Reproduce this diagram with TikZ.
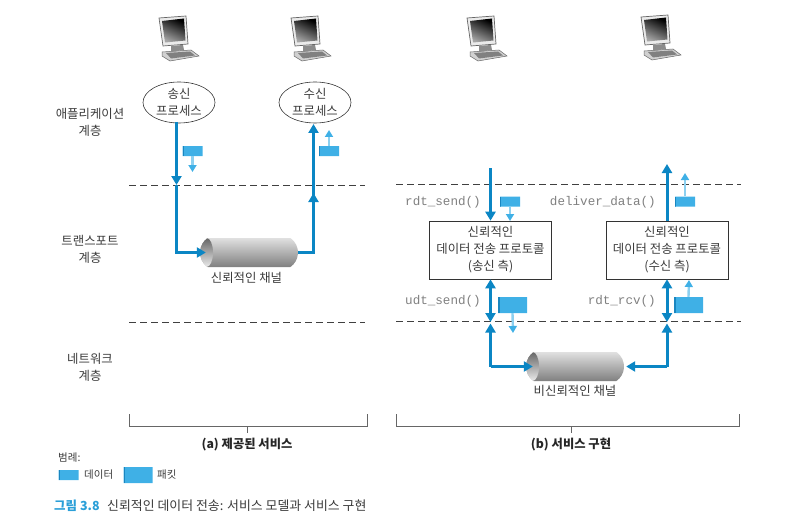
\documentclass[tikz,border=0pt]{standalone}
\usepackage{fontspec}
\setmainfont{Noto Sans CJK KR}
\setmonofont{Liberation Mono}
\usetikzlibrary{arrows.meta, shapes.geometric, shapes.misc}

\definecolor{flowblue}{HTML}{0B86C4}
\definecolor{packetblue}{HTML}{3FB0E6}
\definecolor{packetdark}{HTML}{1A86C0}
\definecolor{inkgray}{HTML}{3A3A3A}
\definecolor{codegray}{HTML}{808080}
\definecolor{captionblue}{HTML}{2A9FD8}

\tikzset{
  computer/.pic={
    \draw [black!60, line width=0.5pt, fill=black!18] (3,35) -- (32,33) -- (40,39) -- (11,44) -- (3,39) -- cycle;
    \fill [black!50] (7,36) -- (31,34.5) -- (36,38.5) -- (12,41.5) -- cycle;
    \fill [black!45] (12,29) -- (24,28) -- (25,33) -- (12,35) -- cycle;
    \draw [black!60, line width=0.7pt, fill=black!8] (0,1) -- (27,-1) -- (29,27) -- (4,29) -- cycle;
    \shade [left color=black, middle color=black!75, right color=black!35, shading angle=-25]
      (3,4) -- (25,1.5) -- (26.5,23.5) -- (6,25.5) -- cycle;
  }
}

\begin{document}
\begin{tikzpicture}[x=1pt, y=-1pt,
                    font=\fontsize{12.4pt}{17pt}\selectfont\color{inkgray},
                    process/.style={ellipse, draw=black!80, line width=0.6pt, inner sep=0pt,
                                    minimum width=72pt, minimum height=41pt, align=center},
                    protocol/.style={rectangle, draw=black!80, line width=0.6pt, inner sep=0pt,
                                     minimum width=122pt, minimum height=58pt, align=center},
                    tier/.style={align=center},
                    code/.style={font=\fontsize{12.6pt}{14pt}\ttfamily\color{codegray}, anchor=east, inner sep=0pt},
                    flow/.style={flowblue, line width=3pt, -{Triangle[length=9pt, width=10pt]}},
                    flowboth/.style={flowblue, line width=3pt,
                                     {Triangle[length=9pt, width=10pt]}-{Triangle[length=9pt, width=10pt]}},
                    flowplain/.style={flowblue, line width=3pt},
                    small/.style={color=packetblue!60, line width=2.4pt,
                                  -{Triangle[length=7pt, width=8pt, fill=packetblue, color=packetblue]}},
                    layerline/.style={draw=black!75, line width=0.6pt, dash pattern=on 7pt off 4pt},
                    brace/.style={draw=black!60, line width=0.7pt},
                    channel/.style={rounded rectangle, rounded rectangle arc length=110, inner sep=0pt,
                                    minimum width=98pt, minimum height=29pt,
                                    top color=black!12, middle color=black!32, bottom color=black!50,
                                    path picture={
                                      \shade [top color=black!60, bottom color=black!8]
                                        ([xshift=7pt]path picture bounding box.west) ellipse (6.5pt and 14.5pt);
                                    }},
                    datapacket/.style={chamfered rectangle, chamfered rectangle corners=north east,
                                       chamfered rectangle xsep=2.5pt, chamfered rectangle ysep=2.5pt,
                                       fill=packetblue, inner sep=0pt, minimum width=20pt, minimum height=10pt,
                                       path picture={
                                         \fill [packetdark] (path picture bounding box.north west)
                                           rectangle ([xshift=1pt]path picture bounding box.south west);
                                       }},
                    segment/.style={datapacket, minimum width=29pt, minimum height=16pt,
                                    chamfered rectangle xsep=3.5pt, chamfered rectangle ysep=3.5pt,
                                    path picture={
                                      \fill [packetdark] (path picture bounding box.north west)
                                        rectangle ([xshift=1.8pt]path picture bounding box.south west);
                                    }}]
  \useasboundingbox (0, 0) rectangle (792, 524);

  % Hosts.
  \pic at (159, 17) {computer};
  \pic at (291, 17) {computer};
  \pic at (467, 17) {computer};
  \pic at (641, 16) {computer};

  % Layer names.
  \node at (90, 122.5) [tier, name=AppLayer] {애플리케이션\\계층};
  \node at (90, 249) [tier, name=TransportLayer] {트랜스포트\\계층};
  \node at (90, 367) [tier, name=NetworkLayer] {네트워크\\계층};

  % Layer boundaries.
  \coordinate (upperA) at (129, 185);
  \coordinate (upperAend) at (365, 185);
  \coordinate (lowerA) at (129, 322);
  \coordinate (lowerAend) at (365, 322);
  \coordinate (upperB) at (396, 184);
  \coordinate (upperBend) at (741, 184);
  \coordinate (lowerB) at (396, 321.5);
  \coordinate (lowerBend) at (741, 321.5);
  \draw [layerline] (upperA) to (upperAend);
  \draw [layerline] (lowerA) to (lowerAend);
  \draw [layerline] (upperB) to (upperBend);
  \draw [layerline] (lowerB) to (lowerBend);

  % Provided service.
  \node at (179, 102.5) [process, name=SendProcess] {송신\\프로세스};
  \node at (315, 102.5) [process, name=RecvProcess] {수신\\프로세스};
  \node at (249, 252.5) [channel, name=ChannelA] {};
  \node at (246.5, 278) [name=ChannelAText] {신뢰적인 채널};

  \coordinate (sendStart) at (176.5, 122);
  \coordinate (sendMid) at (176.5, 185);
  \coordinate (recvMid) at (313.5, 189);
  \coordinate (recvEnd) at (313.5, 124);
  \draw [flow] (sendStart) to (sendMid);
  \draw [flow] (sendMid) |- ([xshift=6pt]ChannelA.west);
  \draw [flowplain] (ChannelA.east) -| (recvMid);
  \draw [flow] (recvMid) to (recvEnd);
  \draw [flow] (recvMid |- ChannelA.east) to (313.5, 193);

  \node at (192.5, 151) [datapacket, name=DataA] {};
  \node at (329, 151) [datapacket, name=DataB] {};
  \coordinate (dataAend) at (192.5, 172);
  \coordinate (dataBend) at (329, 130);
  \draw [small] (DataA.south) to (dataAend);
  \draw [small] (DataB.north) to (dataBend);

  % Service implementation.
  \node at (490.5, 250) [protocol, name=SendBox] {신뢰적인\\데이터 전송 프로토콜\\(송신 측)};
  \node at (667, 250) [protocol, name=RecvBox] {신뢰적인\\데이터 전송 프로토콜\\(수신 측)};
  \node at (575, 366.5) [channel, name=ChannelB] {};
  \node at (575, 391) [name=ChannelBText] {비신뢰적인 채널};

  \coordinate (rdtIn) at (490.5, 168);
  \coordinate (rdtOut) at (667, 164);
  \coordinate (udtGap) at (490.5, 322);
  \coordinate (rcvGap) at (667, 322);
  \coordinate (udtLow) at (490.5, 323.5);
  \coordinate (rcvLow) at (667, 323.5);
  \draw [flow] (rdtIn) to (SendBox.north);
  \draw [flow] (RecvBox.north) to (rdtOut);
  \draw [flowboth] (SendBox.south) to (udtGap);
  \draw [flowboth] (RecvBox.south) to (rcvGap);
  \draw [flow] (udtLow |- ChannelB.west) to ([xshift=7pt]ChannelB.west);
  \draw [flow] (udtLow |- ChannelB.west) to (udtLow);
  \draw [flow] (rcvLow |- ChannelB.east) to ([xshift=2pt]ChannelB.east);
  \draw [flow] (rcvLow |- ChannelB.east) to (rcvLow);

  \node at (481, 202) [code, name=RdtSend] {rdt\_send()};
  \node at (656, 202) [code, name=DeliverData] {deliver\_data()};
  \node at (481, 301) [code, name=UdtSend] {udt\_send()};
  \node at (656, 301) [code, name=RdtRcv] {rdt\_rcv()};

  \node at (510, 201.5) [datapacket, name=DataC] {};
  \node at (685, 201.5) [datapacket, name=DataD] {};
  \node at (512.5, 305) [segment, name=SegmentA] {};
  \node at (688.5, 305) [segment, name=SegmentB] {};
  \coordinate (dataCend) at (510, 221);
  \coordinate (dataDend) at (685, 173);
  \coordinate (segmentAend) at (513, 333);
  \coordinate (segmentBend) at (689, 280);
  \draw [small] (DataC.south) to (dataCend);
  \draw [small] (DataD.north) to (dataDend);
  \draw [small] (SegmentA.south) to (segmentAend);
  \draw [small] (SegmentB.north) to (segmentBend);

  % Brackets.
  \draw [brace] (129, 414) |- (367, 426) -- (367, 414);
  \draw [brace] (247, 426) -- (247, 433);
  \draw [brace] (396.5, 414) |- (739, 426) -- (739, 414);
  \draw [brace] (571, 426) -- (571, 433);
  \node at (247, 445) [font=\fontsize{12.3pt}{14pt}\bfseries\color{black!85}, name=PartA] {(a) 제공된 서비스};
  \node at (571, 445) [font=\fontsize{12.3pt}{14pt}\bfseries\color{black!85}, name=PartB] {(b) 서비스 구현};

  % Legend.
  \node at (58, 458) [anchor=west, font=\fontsize{10.5pt}{12pt}\selectfont\color{inkgray}, inner sep=0pt, name=LegendTitle] {범례:};
  \node at (68.5, 475) [datapacket, name=LegendData] {};
  \node at (84, 475) [anchor=west, font=\fontsize{10.5pt}{12pt}\selectfont\color{inkgray}, inner sep=0pt, name=LegendDataText] {데이터};
  \node at (138, 475) [segment, name=LegendSegment] {};
  \node at (157, 475) [anchor=west, font=\fontsize{10.5pt}{12pt}\selectfont\color{inkgray}, inner sep=0pt, name=LegendSegmentText] {패킷};

  % Caption.
  \node at (54, 505.5) [anchor=west, inner sep=0pt, font=\fontsize{12.5pt}{14pt}\bfseries\color{captionblue}, name=FigNumber] {그림 3.8};
  \node at (107, 505.5) [anchor=west, inner sep=0pt, font=\fontsize{12.9pt}{14pt}\selectfont\color{inkgray}, name=FigCaption] {신뢰적인 데이터 전송: 서비스 모델과 서비스 구현};
\end{tikzpicture}
\end{document}
